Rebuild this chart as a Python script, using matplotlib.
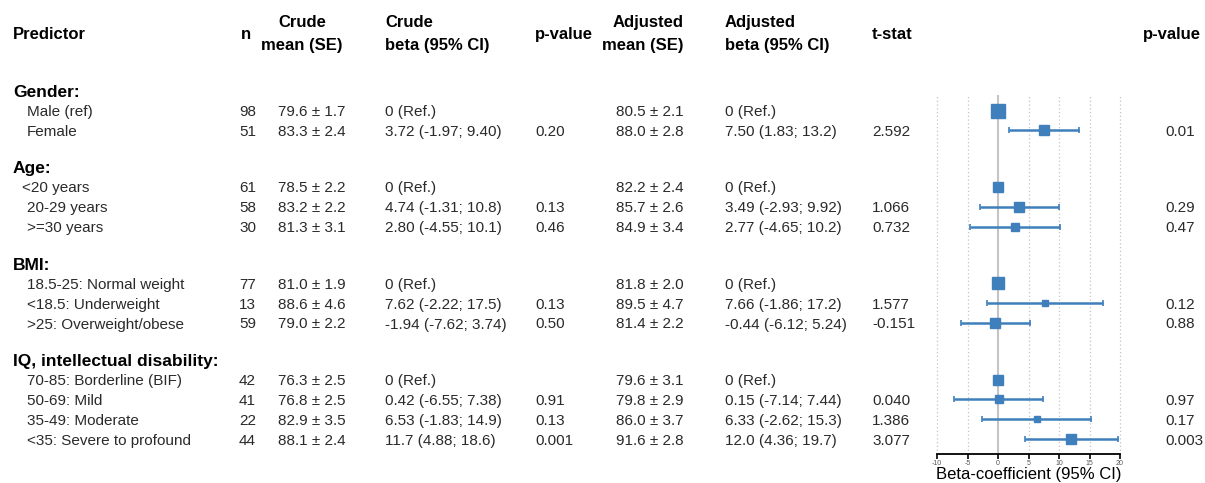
import matplotlib
matplotlib.use("Agg")
import matplotlib.pyplot as plt
import numpy as np

plt.rcParams['font.family'] = ['Liberation Sans', 'DejaVu Sans']

groups = ["Gender:", "Age:", "BMI:", "IQ, intellectual disability:"]
labels = [
    ["Male (ref)", "Female"],
    ["<20 years", "20-29 years", ">=30 years"],
    ["18.5-25: Normal weight", "<18.5: Underweight", ">25: Overweight/obese"],
    ["70-85: Borderline (BIF)", "50-69: Mild", "35-49: Moderate", "<35: Severe to profound"],
]
n_vals = [[98, 51], [61, 58, 30], [77, 13, 59], [42, 41, 22, 44]]
crude_mean = [["79.6 ± 1.7", "83.3 ± 2.4"],
              ["78.5 ± 2.2", "83.2 ± 2.2", "81.3 ± 3.1"],
              ["81.0 ± 1.9", "88.6 ± 4.6", "79.0 ± 2.2"],
              ["76.3 ± 2.5", "76.8 ± 2.5", "82.9 ± 3.5", "88.1 ± 2.4"]]
crude_beta = [["0 (Ref.)", "3.72 (-1.97; 9.40)"],
              ["0 (Ref.)", "4.74 (-1.31; 10.8)", "2.80 (-4.55; 10.1)"],
              ["0 (Ref.)", "7.62 (-2.22; 17.5)", "-1.94 (-7.62; 3.74)"],
              ["0 (Ref.)", "0.42 (-6.55; 7.38)", "6.53 (-1.83; 14.9)", "11.7 (4.88; 18.6)"]]
crude_p = [["", "0.20"], ["", "0.13", "0.46"], ["", "0.13", "0.50"], ["", "0.91", "0.13", "0.001"]]
adj_mean = [["80.5 ± 2.1", "88.0 ± 2.8"],
            ["82.2 ± 2.4", "85.7 ± 2.6", "84.9 ± 3.4"],
            ["81.8 ± 2.0", "89.5 ± 4.7", "81.4 ± 2.2"],
            ["79.6 ± 3.1", "79.8 ± 2.9", "86.0 ± 3.7", "91.6 ± 2.8"]]
adj_beta_txt = [["0 (Ref.)", "7.50 (1.83; 13.2)"],
                ["0 (Ref.)", "3.49 (-2.93; 9.92)", "2.77 (-4.65; 10.2)"],
                ["0 (Ref.)", "7.66 (-1.86; 17.2)", "-0.44 (-6.12; 5.24)"],
                ["0 (Ref.)", "0.15 (-7.14; 7.44)", "6.33 (-2.62; 15.3)", "12.0 (4.36; 19.7)"]]
t_stat = [["", "2.592"], ["", "1.066", "0.732"], ["", "1.577", "-0.151"], ["", "0.040", "1.386", "3.077"]]
adj_p = [["", "0.01"], ["", "0.29", "0.47"], ["", "0.12", "0.88"], ["", "0.97", "0.17", "0.003"]]
beta = [[0, 7.50], [0, 3.49, 2.77], [0, 7.66, -0.44], [0, 0.15, 6.33, 12.0]]
lo = [[np.nan, 1.83], [np.nan, -2.93, -4.65], [np.nan, -1.86, -6.12], [np.nan, -7.14, -2.62, 4.36]]
hi = [[np.nan, 13.2], [np.nan, 9.92, 10.2], [np.nan, 17.2, 5.24], [np.nan, 7.44, 15.3, 19.7]]

W, H = 1205, 483
fig = plt.figure(figsize=(W / 100, H / 100), dpi=100)
ax = fig.add_axes([0, 0, 1, 1])
ax.set_xlim(0, W)
ax.set_ylim(H, 0)
ax.axis('off')

# layout (pixel rows)
y0, step, head_gap, grp_gap = 91, 19.9, 19.5, 37.0
head_y, item_y = [], []
y = y0
for g, labs in enumerate(labels):
    head_y.append(y)
    ys = [y + head_gap + i * step for i in range(len(labs))]
    item_y.append(ys)
    y = ys[-1] + grp_gap

hdr_fs, grp_fs, fs = 12, 12.5, 11
txtc = '#2a2a2a'
hkw = dict(fontsize=hdr_fs, fontweight='bold', va='center_baseline', color='black')
ax.text(13, 33, "Predictor", ha='left', **hkw)
ax.text(246, 33, "n", ha='center', **hkw)
ax.text(302, 21, "Crude", ha='center', **hkw)
ax.text(302, 44, "mean (SE)", ha='center', **hkw)
ax.text(385, 21, "Crude", ha='left', **hkw)
ax.text(385, 44, "beta (95% CI)", ha='left', **hkw)
ax.text(535, 33, "p-value", ha='left', **hkw)
ax.text(684, 21, "Adjusted", ha='right', **hkw)
ax.text(684, 44, "mean (SE)", ha='right', **hkw)
ax.text(725, 21, "Adjusted", ha='left', **hkw)
ax.text(725, 44, "beta (95% CI)", ha='left', **hkw)
ax.text(872, 33, "t-stat", ha='left', **hkw)
ax.text(1143, 33, "p-value", ha='left', **hkw)

for g in range(len(groups)):
    ax.text(13, head_y[g], groups[g], ha='left', va='center_baseline', fontsize=grp_fs,
            fontweight='bold', color='black')
    for i, yy in enumerate(item_y[g]):
        indent = 22 if (g == 1 and i == 0) else 27
        kw = dict(fontsize=fs, va='center_baseline', color=txtc)
        ax.text(indent, yy, labels[g][i], ha='left', **kw)
        ax.text(256, yy, str(n_vals[g][i]), ha='right', **kw)
        ax.text(278, yy, crude_mean[g][i], ha='left', **kw)
        ax.text(385, yy, crude_beta[g][i], ha='left', **kw)
        ax.text(535, yy, crude_p[g][i], ha='left', **kw)
        ax.text(684, yy, adj_mean[g][i], ha='right', **kw)
        ax.text(725, yy, adj_beta_txt[g][i], ha='left', **kw)
        ax.text(872, yy, t_stat[g][i], ha='left', **kw)
        ax.text(1165, yy, adj_p[g][i], ha='left', **kw)

# forest panel
xl, xr = -10.5, 20.5
px_per = (1120 - 937) / 30.0
left_px = 937 - 0.5 * px_per
right_px = 1120 + 0.5 * px_per
top_px, bot_px = 95, 454
fax = fig.add_axes([left_px / W, 1 - bot_px / H, (right_px - left_px) / W, (bot_px - top_px) / H])
fax.set_xlim(xl, xr)
fax.set_ylim(bot_px, top_px)
fax.patch.set_alpha(0)
for s in ['top', 'right', 'left']:
    fax.spines[s].set_visible(False)
fax.spines['bottom'].set_bounds(-10, 20)
fax.spines['bottom'].set_linewidth(1.3)
ticks = np.arange(-10, 21, 5)
fax.set_xticks(ticks)
fax.set_xticklabels([str(t) for t in ticks], fontsize=5, color='#555555')
fax.tick_params(axis='x', length=3.5, width=1.2, pad=1)
fax.set_yticks([])
for t in ticks:
    if t == 0:
        fax.axvline(0, color='#c4c4c4', lw=1.5, zorder=1)
    else:
        fax.axvline(t, color='#c4c4c4', lw=0.9, ls=(0, (1, 2)), zorder=1)

blue = '#3f7fbc'
for g in range(len(groups)):
    for i, yy in enumerate(item_y[g]):
        b = beta[g][i]
        if not np.isnan(lo[g][i]):
            fax.errorbar(b, yy, xerr=[[b - lo[g][i]], [hi[g][i] - b]], fmt='none',
                         ecolor=blue, elinewidth=1.8, capsize=2, capthick=1.2, zorder=2)
        fax.plot(b, yy, marker='s', color=blue, ms=1.0 * np.sqrt(n_vals[g][i]),
                 mec=blue, zorder=3, ls='none')

fax.set_xlabel("Beta-coefficient (95% CI)", fontsize=12, labelpad=0, color='black')

fig.savefig("out.png", dpi=100)
